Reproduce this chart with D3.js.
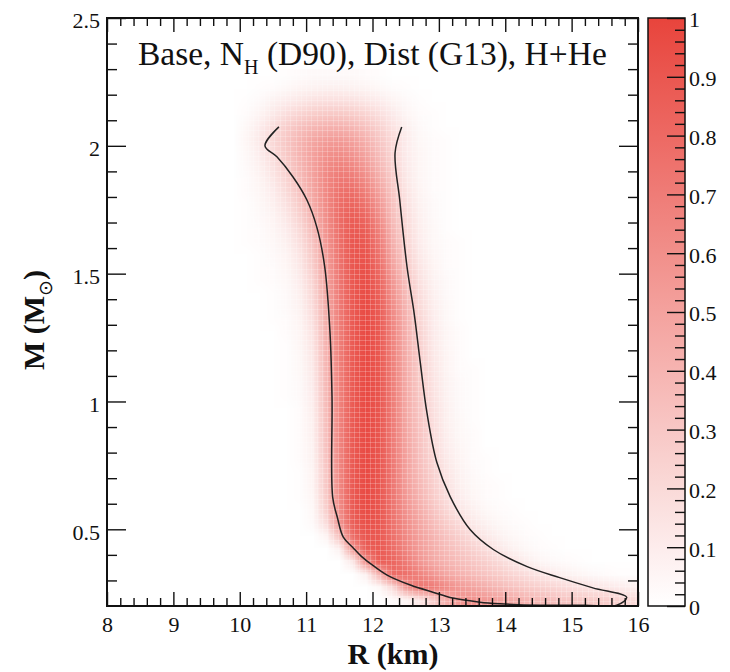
<!DOCTYPE html>
<html>
<head>
<meta charset="utf-8">
<script src="https://cdn.jsdelivr.net/npm/d3@7"></script>
<style>
  html, body { margin: 0; padding: 0; background: #fff; overflow: hidden; }
  svg { display: block; }
  text { font-family: "Liberation Serif", "Times New Roman", serif; fill: #111; }
</style>
</head>
<body>
<svg id="chart" width="730" height="672"></svg>
<script>
// ---- axes ----
const rDomain = [8, 16];
const mDomain = [0.2, 2.5];
const rTickValues = [8, 9, 10, 11, 12, 13, 14, 15, 16];
const rTickLabels = ["8", "9", "10", "11", "12", "13", "14", "15", "16"];
const mTickValues = [0.5, 1, 1.5, 2, 2.5];
const mTickLabels = ["0.5", "1", "1.5", "2", "2.5"];
const zTickValues = [0, 0.1, 0.2, 0.3, 0.4, 0.5, 0.6, 0.7, 0.8, 0.9, 1];
const zTickLabels = ["0", "0.1", "0.2", "0.3", "0.4", "0.5", "0.6", "0.7", "0.8", "0.9", "1"];

// ---- probability grid ----
// radius bin centres (km), 0.2 km wide
const radiusBins = [9.9, 10.1, 10.3, 10.5, 10.7, 10.9, 11.1, 11.3, 11.5, 11.7, 11.9,
                    12.1, 12.3, 12.5, 12.7, 12.9, 13.1, 13.3, 13.5, 13.7, 13.9,
                    14.1, 14.3, 14.5, 14.7, 14.9, 15.1, 15.3, 15.5, 15.7, 15.9];
// mass bin centres (solar masses), 0.05 wide
const massBins = [0.225, 0.275, 0.325, 0.375, 0.425, 0.475, 0.525, 0.575, 0.625, 0.675,
                  0.725, 0.775, 0.825, 0.875, 0.925, 0.975, 1.025, 1.075, 1.125, 1.175,
                  1.225, 1.275, 1.325, 1.375, 1.425, 1.475, 1.525, 1.575, 1.625, 1.675,
                  1.725, 1.775, 1.825, 1.875, 1.925, 1.975, 2.025, 2.075, 2.125, 2.175,
                  2.225, 2.275];
// one row per mass bin (lowest first), one entry per radius bin; cells past the end of a row are 0
const probability = [
  [0,0,0,0,0,0,0,0,0,0,0,0,.02,.05,.12,.25,.42,.55,.58,.55,.5,.45,.4,.37,.34,.31,.29,.27,.26,.24,.2],
  [0,0,0,0,0,0,0,0,0,0,0,.04,.2,.55,.72,.7,.62,.54,.48,.42,.37,.32,.28,.25,.22,.19,.16,.14,.12,.1,.08],
  [0,0,0,0,0,0,0,0,0,0,.08,.4,.78,.76,.66,.56,.47,.41,.36,.31,.27,.22,.18,.14,.1,.07,.05,.03,.02,.01,.01],
  [0,0,0,0,0,0,0,0,0,.12,.6,.86,.82,.7,.56,.46,.4,.35,.3,.25,.2,.14,.09,.05,.03,.02,.01],
  [0,0,0,0,0,0,0,0,.08,.55,.85,.88,.78,.64,.52,.43,.36,.3,.24,.18,.12,.07,.04,.02,.01],
  [0,0,0,0,0,0,0,.06,.35,.78,.9,.88,.76,.62,.5,.4,.32,.25,.18,.12,.07,.04,.02,.01],
  [0,0,0,0,0,0,.03,.18,.55,.85,.93,.9,.75,.6,.47,.36,.27,.19,.12,.07,.04,.02,.01],
  [0,0,0,0,0,0,.04,.25,.6,.87,.95,.9,.74,.57,.44,.32,.22,.14,.08,.04,.02,.01],
  [0,0,0,0,0,.01,.05,.28,.62,.88,.96,.9,.73,.54,.4,.28,.18,.1,.05,.02,.01],
  [0,0,0,0,0,.01,.06,.3,.63,.88,.96,.9,.72,.52,.38,.26,.16,.08,.04,.02,.01],
  [0,0,0,0,0,.01,.06,.3,.63,.88,.96,.9,.72,.5,.36,.24,.14,.07,.03,.01],
  [0,0,0,0,0,.02,.07,.32,.64,.88,.96,.9,.71,.5,.34,.22,.12,.06,.02,.01],
  [0,0,0,0,0,.02,.07,.33,.64,.88,.96,.9,.7,.48,.33,.2,.1,.05,.02],
  [0,0,0,0,0,.02,.08,.34,.65,.88,.96,.9,.7,.47,.32,.19,.09,.04,.02],
  [0,0,0,0,0,.02,.08,.35,.65,.88,.96,.9,.7,.46,.31,.18,.08,.04,.01],
  [0,0,0,0,0,.02,.09,.36,.66,.88,.96,.9,.69,.45,.3,.17,.08,.03,.01],
  [0,0,0,0,.01,.03,.1,.37,.66,.88,.96,.9,.69,.45,.29,.16,.07,.03,.01],
  [0,0,0,0,.01,.03,.11,.38,.67,.88,.96,.9,.68,.44,.28,.15,.07,.03,.01],
  [0,0,0,0,.01,.04,.12,.39,.67,.88,.96,.89,.68,.44,.27,.14,.06,.02,.01],
  [0,0,0,0,.01,.04,.13,.4,.68,.88,.96,.89,.67,.43,.26,.13,.06,.02],
  [0,0,0,0,.01,.05,.14,.41,.68,.88,.96,.88,.66,.42,.25,.12,.05,.02],
  [0,0,0,0,.02,.05,.15,.42,.68,.88,.96,.88,.65,.41,.24,.11,.05,.02],
  [0,0,0,.01,.02,.06,.17,.43,.69,.88,.96,.87,.63,.4,.22,.1,.04,.01],
  [0,0,0,.01,.03,.07,.19,.44,.7,.88,.96,.86,.61,.38,.2,.09,.04,.01],
  [0,0,0,.01,.03,.08,.21,.46,.71,.89,.95,.84,.58,.35,.18,.08,.03,.01],
  [0,0,.01,.02,.04,.1,.23,.48,.72,.89,.94,.82,.55,.32,.16,.07,.03,.01],
  [0,0,.01,.02,.05,.12,.26,.5,.73,.9,.93,.78,.5,.28,.14,.06,.02,.01],
  [0,0,.01,.03,.06,.14,.29,.52,.75,.9,.91,.74,.46,.25,.12,.05,.02,.01],
  [0,.01,.02,.04,.08,.17,.32,.55,.76,.9,.88,.7,.42,.22,.1,.04,.02,.01],
  [0,.01,.02,.05,.1,.2,.36,.58,.77,.88,.85,.66,.39,.2,.09,.04,.01],
  [0,.01,.03,.06,.13,.24,.4,.6,.78,.86,.8,.6,.35,.18,.08,.03,.01],
  [0,.01,.04,.08,.16,.28,.44,.62,.77,.82,.74,.55,.32,.16,.07,.03,.01],
  [0,.02,.05,.1,.2,.32,.47,.63,.75,.77,.67,.49,.29,.14,.06,.02,.01],
  [0,.02,.06,.13,.23,.35,.49,.63,.71,.7,.6,.43,.26,.12,.05,.02,.01],
  [0,.03,.08,.16,.26,.38,.5,.61,.66,.63,.53,.38,.23,.11,.05,.02,.01],
  [0,.04,.1,.19,.29,.4,.5,.58,.6,.56,.47,.34,.21,.1,.05,.02,.01],
  [0,.05,.12,.21,.3,.39,.47,.52,.53,.49,.41,.3,.19,.1,.04,.02,.01],
  [0,.04,.1,.18,.26,.33,.38,.41,.41,.38,.32,.24,.15,.08,.03,.01],
  [0,.02,.06,.12,.18,.23,.27,.29,.29,.27,.23,.17,.11,.05,.02,.01],
  [0,.01,.03,.07,.1,.13,.16,.17,.17,.16,.13,.1,.06,.03,.01],
  [0,0,.01,.02,.04,.06,.07,.08,.08,.07,.06,.04,.02,.01],
  [0,0,0,0,.01,.02,.03,.03,.03,.03,.02,.01]
];

// ---- credible-region contour (closed loop: inner edge down, along the floor, outer edge up) ----
const contourR = [10.59, 10.38, 10.56, 10.80, 11.01, 11.16, 11.28, 11.36, 11.39, 11.40,
                  11.47, 11.56, 11.70, 11.85, 12.00, 12.22, 12.57, 12.91, 13.21, 13.62,
                  13.92, 14.52, 15.20, 15.68, 15.83, 15.32, 14.82, 14.33, 13.82, 13.47,
                  13.17, 12.97, 12.82, 12.72, 12.63, 12.52, 12.41, 12.34, 12.44];
const contourM = [2.074, 2.000, 1.957, 1.879, 1.789, 1.683, 1.527, 1.268, 1.017, 0.626,
                  0.547, 0.469, 0.430, 0.390, 0.360, 0.321, 0.282, 0.254, 0.231, 0.215,
                  0.209, 0.203, 0.203, 0.203, 0.234, 0.271, 0.311, 0.354, 0.421, 0.499,
                  0.628, 0.761, 0.956, 1.152, 1.340, 1.527, 1.789, 1.973, 2.074];

// ---- layout ----
const plot = { left: 107, right: 638, top: 18, bottom: 606 };
const bar = { left: 648, right: 685 };

const svg = d3.select("#chart");
const x = d3.scaleLinear().domain(rDomain).range([plot.left, plot.right]);
const y = d3.scaleLinear().domain(mDomain).range([plot.bottom, plot.top]);
const z = d3.scaleLinear().domain([0, 1]).range([plot.bottom, plot.top]);
const color = d3.scaleLinear().domain([0, 1]).range(["#ffffff", "#e8443c"]).interpolate(d3.interpolateRgb);

// ---- heat map: one pixel per cell, stretched over the cell extent ----
const nCols = radiusBins.length, nRows = massBins.length;
const dR = radiusBins[1] - radiusBins[0];
const dM = massBins[1] - massBins[0];
const canvas = document.createElement("canvas");
canvas.width = nCols; canvas.height = nRows;
const ctx = canvas.getContext("2d");
const image = ctx.createImageData(nCols, nRows);
massBins.forEach((m, j) => {
  const row = probability[j];
  radiusBins.forEach((r, i) => {
    const c = d3.rgb(color(row[i] || 0));
    const k = ((nRows - 1 - j) * nCols + i) * 4;
    image.data[k] = c.r; image.data[k + 1] = c.g; image.data[k + 2] = c.b; image.data[k + 3] = 255;
  });
});
ctx.putImageData(image, 0, 0);

svg.append("clipPath").attr("id", "plot-clip")
  .append("rect")
  .attr("x", plot.left).attr("y", plot.top)
  .attr("width", plot.right - plot.left).attr("height", plot.bottom - plot.top);

const field = svg.append("g").attr("clip-path", "url(#plot-clip)");
const r0 = radiusBins[0] - dR / 2, r1 = radiusBins[nCols - 1] + dR / 2;
const m0 = massBins[0] - dM / 2, m1 = massBins[nRows - 1] + dM / 2;
field.append("image")
  .attr("href", canvas.toDataURL())
  .attr("x", x(r0)).attr("y", y(m1))
  .attr("width", x(r1) - x(r0)).attr("height", y(m0) - y(m1))
  .attr("preserveAspectRatio", "none")
  .style("image-rendering", "auto");

// faint seams of the fine sampling lattice (0.08 km x 0.02 Msun)
const seams = field.append("g").attr("stroke", "#fff").attr("stroke-opacity", 0.22).attr("stroke-width", 1);
seams.selectAll("line.v").data(d3.range(r0, r1 + 1e-6, 0.08)).join("line")
  .attr("class", "v")
  .attr("x1", d => Math.round(x(d)) + 0.5).attr("x2", d => Math.round(x(d)) + 0.5)
  .attr("y1", y(m1)).attr("y2", y(m0));
seams.selectAll("line.h").data(d3.range(m0, m1 + 1e-6, 0.02)).join("line")
  .attr("class", "h")
  .attr("y1", d => Math.round(y(d)) + 0.5).attr("y2", d => Math.round(y(d)) + 0.5)
  .attr("x1", x(r0)).attr("x2", x(r1));

// contour
const contourPts = contourR.map((r, i) => [r, contourM[i]]);
field.append("path")
  .datum(contourPts)
  .attr("fill", "none")
  .attr("stroke", "#222")
  .attr("stroke-width", 1.5)
  .attr("d", d3.line().x(d => x(d[0])).y(d => y(d[1])).curve(d3.curveCatmullRom.alpha(0.5)));

// ---- axes with inward ticks on all four sides ----
const rMinor = d3.range(8.2, 16, 0.2).filter(v => Math.abs(v - Math.round(v)) > 1e-6);
const mMinor = d3.range(0.3, 2.45, 0.1).filter(v => Math.abs(v * 2 - Math.round(v * 2)) > 1e-6);

function styleAxis(g) {
  g.select(".domain").remove();
  g.selectAll(".tick line").attr("stroke", "#111").attr("stroke-width", 1.4);
  g.selectAll("text").style("font-size", "22px").attr("fill", "#111")
    .style("font-family", "'Liberation Serif','Times New Roman',serif");
}

// bottom
svg.append("g").attr("transform", `translate(0,${plot.bottom})`)
  .call(d3.axisBottom(x).tickValues(rTickValues).tickFormat((d, i) => rTickLabels[i]).tickSize(-14).tickSizeOuter(0))
  .call(styleAxis)
  .call(g => g.selectAll("text").attr("y", 26).attr("dy", 0));
svg.append("g").attr("transform", `translate(0,${plot.bottom})`)
  .call(d3.axisBottom(x).tickValues(rMinor).tickFormat("").tickSize(-8).tickSizeOuter(0))
  .call(styleAxis);
// top
svg.append("g").attr("transform", `translate(0,${plot.top})`)
  .call(d3.axisTop(x).tickValues(rTickValues).tickFormat("").tickSize(-14).tickSizeOuter(0))
  .call(styleAxis);
svg.append("g").attr("transform", `translate(0,${plot.top})`)
  .call(d3.axisTop(x).tickValues(rMinor).tickFormat("").tickSize(-8).tickSizeOuter(0))
  .call(styleAxis);
// left
svg.append("g").attr("transform", `translate(${plot.left},0)`)
  .call(d3.axisLeft(y).tickValues(mTickValues).tickFormat((d, i) => mTickLabels[i]).tickSize(-19).tickSizeOuter(0))
  .call(styleAxis)
  .call(g => g.selectAll("text").attr("x", -7).attr("dy", "0.45em"));
svg.append("g").attr("transform", `translate(${plot.left},0)`)
  .call(d3.axisLeft(y).tickValues(mMinor).tickFormat("").tickSize(-10).tickSizeOuter(0))
  .call(styleAxis);
// right
svg.append("g").attr("transform", `translate(${plot.right},0)`)
  .call(d3.axisRight(y).tickValues(mTickValues).tickFormat("").tickSize(-19).tickSizeOuter(0))
  .call(styleAxis);
svg.append("g").attr("transform", `translate(${plot.right},0)`)
  .call(d3.axisRight(y).tickValues(mMinor).tickFormat("").tickSize(-10).tickSizeOuter(0))
  .call(styleAxis);

// frame
svg.append("rect")
  .attr("x", plot.left).attr("y", plot.top)
  .attr("width", plot.right - plot.left).attr("height", plot.bottom - plot.top)
  .attr("fill", "none").attr("stroke", "#111").attr("stroke-width", 2);

// ---- colour bar ----
const defs = svg.append("defs");
const grad = defs.append("linearGradient").attr("id", "zgrad")
  .attr("x1", 0).attr("y1", 1).attr("x2", 0).attr("y2", 0);
zTickValues.forEach(v => grad.append("stop").attr("offset", v).attr("stop-color", color(v)));
svg.append("rect")
  .attr("x", bar.left).attr("y", plot.top)
  .attr("width", bar.right - bar.left).attr("height", plot.bottom - plot.top)
  .attr("fill", "url(#zgrad)");
const zMinor = d3.range(0.02, 1, 0.02).filter(v => Math.abs(v * 10 - Math.round(v * 10)) > 1e-6);
svg.append("g").attr("transform", `translate(${bar.right},0)`)
  .call(d3.axisRight(z).tickValues(zTickValues).tickFormat((d, i) => zTickLabels[i]).tickSize(-18).tickSizeOuter(0))
  .call(styleAxis)
  .call(g => g.selectAll("text").attr("x", 4).attr("dy", "0.4em"));
svg.append("g").attr("transform", `translate(${bar.right},0)`)
  .call(d3.axisRight(z).tickValues(zMinor).tickFormat("").tickSize(-10).tickSizeOuter(0))
  .call(styleAxis);
svg.append("rect")
  .attr("x", bar.left).attr("y", plot.top)
  .attr("width", bar.right - bar.left).attr("height", plot.bottom - plot.top)
  .attr("fill", "none").attr("stroke", "#111").attr("stroke-width", 1.5);

// ---- titles ----
const title = svg.append("text").attr("x", 138).attr("y", 65).style("font-size", "33.5px");
title.append("tspan").text("Base, N");
title.append("tspan").attr("dy", 9).style("font-size", "20px").text("H");
title.append("tspan").attr("dy", -9).text(" (D90), Dist (G13), H+He");

svg.append("text")
  .attr("x", 393).attr("y", 664)
  .attr("text-anchor", "middle")
  .style("font-size", "30px").style("font-weight", "bold")
  .text("R (km)");

const ylab = svg.append("text")
  .attr("transform", "translate(44,320) rotate(-90)")
  .attr("text-anchor", "middle")
  .style("font-size", "30px").style("font-weight", "bold");
ylab.append("tspan").text("M (M");
ylab.append("tspan").attr("dy", 8).style("font-size", "19px").style("font-weight", "normal").text("\u2299");
ylab.append("tspan").attr("dy", -8).text(")");
</script>
</body>
</html>
